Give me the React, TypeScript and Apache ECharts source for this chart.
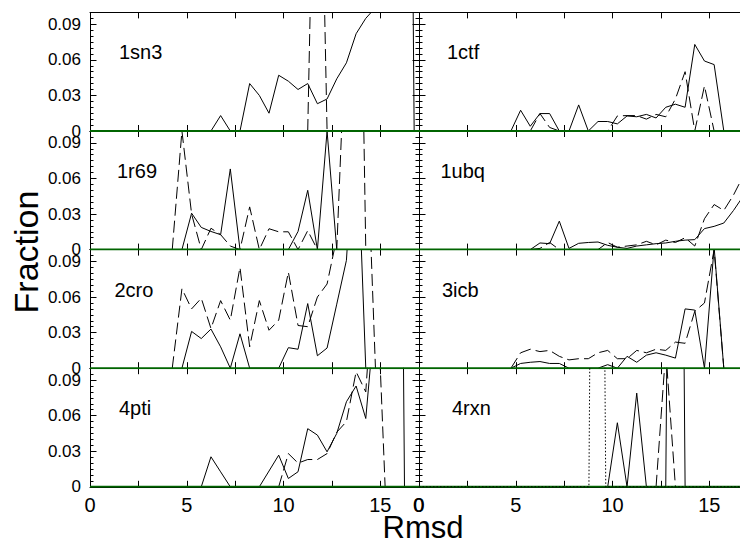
import React, { useEffect, useRef } from "react";
import * as echarts from "echarts";

type Pt = [number, number];

// ---- Data (Rmsd bin centre, fraction) ----
const PANEL_NAMES = ["1sn3", "1ctf", "1r69", "1ubq", "2cro", "3icb", "4pti", "4rxn"];
const X_TICK_LABELS = [0, 5, 10, 15];
const Y_TICK_LABELS = [0, 0.03, 0.06, 0.09];

const SOLID_1SN3: Pt[] = [[6.25, 0], [6.75, 0.013], [7.25, 0], [7.75, 0], [8.25, 0.04], [8.75, 0.03], [9.25, 0.015], [9.75, 0.047], [10.25, 0.042], [10.75, 0.035], [11.25, 0.04], [11.75, 0.023], [12.25, 0.027], [12.75, 0.044], [13.25, 0.0575], [13.75, 0.082], [14.25, 0.095], [14.75, 0.104], [15.25, 0.2], [15.75, 0.4], [16.25, 1.0], [16.75, 0]];
const DASHED_1SN3: Pt[] = [[11.25, 0], [11.75, 0.4], [12.25, 0]];

const SOLID_1CTF: Pt[] = [[4.75, 0], [5.25, 0.0175], [5.75, 0.004], [6.25, 0.0147], [6.75, 0.0147], [7.25, 0], [7.75, 0], [8.25, 0.022], [8.75, 0], [9.25, 0.008], [9.75, 0.008], [10.25, 0.006], [10.75, 0.0127], [11.25, 0.012], [11.75, 0.014], [12.25, 0.011], [12.75, 0.02], [13.25, 0.0226], [13.75, 0.02], [14.25, 0.073], [14.75, 0.059], [15.25, 0.056], [15.75, 0]];
const DASHED_1CTF: Pt[] = [[5.75, 0], [6.25, 0.0147], [6.75, 0.003], [7.25, 0], [9.75, 0], [10.25, 0.0127], [10.75, 0.013], [11.25, 0.013], [11.75, 0.01], [12.25, 0.014], [12.75, 0.012], [13.25, 0.027], [13.75, 0.05], [14.25, 0], [14.75, 0.038], [15.25, 0]];

const SOLID_1R69: Pt[] = [[4.75, 0], [5.25, 0.0307], [5.75, 0.0187], [6.25, 0.0153], [6.75, 0.0126], [7.25, 0.068], [7.75, 0], [10.25, 0], [10.75, 0.0153], [11.25, 0.05], [11.75, 0], [12.25, 0.1], [12.75, 0]];
const DASHED_1R69: Pt[] = [[4.25, 0], [4.75, 0.1], [5.25, 0.03], [5.75, 0], [6.25, 0.018], [6.75, 0.0126], [7.25, 0.003], [7.75, 0], [8.25, 0.036], [8.75, 0], [9.25, 0.0176], [9.75, 0.015], [10.25, 0.015], [10.75, 0], [11.25, 0.016], [11.75, 0], [12.75, 0], [13.25, 0.2], [13.75, 0.5], [14.25, 0]];

const SOLID_1UBQ: Pt[] = [[5.75, 0], [6.25, 0.0056], [6.75, 0.005], [7.25, 0.024], [7.75, 0.001], [8.25, 0.0053], [8.75, 0.006], [9.25, 0.0064], [9.75, 0.0036], [10.25, 0.002], [10.75, 0.001], [11.25, 0.003], [11.75, 0.004], [12.25, 0.005], [12.75, 0.0056], [13.25, 0.007], [13.75, 0.008], [14.25, 0.0084], [14.75, 0.0177], [15.25, 0.0196], [15.75, 0.0224], [16.25, 0.033], [16.75, 0.045]];
const DASHED_1UBQ: Pt[] = [[5.75, 0], [6.25, 0.001], [6.75, 0.006], [7.25, 0], [9.25, 0], [9.75, 0.006], [10.25, 0.002], [10.75, 0.003], [11.25, 0.004], [11.75, 0.007], [12.25, 0.004], [12.75, 0.008], [13.25, 0.006], [13.75, 0.01], [14.25, 0.003], [14.75, 0.026], [15.25, 0.038], [15.75, 0.033], [16.25, 0.046], [16.75, 0.062]];

const SOLID_2CRO: Pt[] = [[4.75, 0], [5.25, 0.031], [5.75, 0.025], [6.25, 0.033], [6.75, 0.018], [7.25, 0], [7.75, 0.029], [8.25, 0], [9.75, 0], [10.25, 0.0173], [10.75, 0.016], [11.25, 0.0545], [11.75, 0.0105], [12.25, 0.017], [12.75, 0.054], [13.25, 0.091], [13.75, 0.22], [14.25, 0]];
const DASHED_2CRO: Pt[] = [[4.25, 0], [4.75, 0.067], [5.25, 0.05], [5.75, 0.059], [6.25, 0.0335], [6.75, 0.057], [7.25, 0.0405], [7.75, 0.085], [8.25, 0.018], [8.75, 0.057], [9.25, 0.032], [9.75, 0.0405], [10.25, 0.081], [10.75, 0.036], [11.25, 0.035], [11.75, 0.06], [12.25, 0.071], [12.75, 0.11], [13.25, 0.2], [13.75, 0.3], [14.25, 0.22], [14.75, 0]];

const SOLID_3ICB: Pt[] = [[4.75, 0], [5.25, 0.004], [5.75, 0.005], [6.25, 0.0056], [6.75, 0.004], [7.25, 0.004], [7.75, 0], [9.25, 0], [9.75, 0.003], [10.25, 0], [10.75, 0.01], [11.25, 0.005], [11.75, 0.011], [12.25, 0.013], [12.75, 0.011], [13.25, 0.0085], [13.75, 0.05], [14.25, 0.049], [14.75, 0], [15.25, 0.102], [15.75, 0]];
const DASHED_3ICB: Pt[] = [[4.75, 0], [5.25, 0.013], [5.75, 0.016], [6.25, 0.014], [6.75, 0.015], [7.25, 0.01], [7.75, 0.007], [8.25, 0.008], [8.75, 0.008], [9.25, 0.013], [9.75, 0.015], [10.25, 0.008], [10.75, 0.008], [11.25, 0.015], [11.75, 0.013], [12.25, 0.016], [12.75, 0.015], [13.25, 0.022], [13.75, 0.021], [14.25, 0.048], [14.75, 0.055], [15.25, 0.1], [15.75, 0]];

const SOLID_4PTI: Pt[] = [[5.75, 0], [6.25, 0.0253], [6.75, 0.0126], [7.25, 0], [8.75, 0], [9.25, 0.0133], [9.75, 0.0267], [10.25, 0.007], [10.75, 0.0127], [11.25, 0.049], [11.75, 0.0436], [12.25, 0.0295], [12.75, 0.045], [13.25, 0.0717], [13.75, 0.085], [14.25, 0.0576], [14.75, 0.15], [15.25, 0.5], [15.75, 1.0], [16.25, 0]];
const DASHED_4PTI: Pt[] = [[9.75, 0], [10.25, 0.028], [10.75, 0.02], [11.25, 0.023], [11.75, 0.023], [12.25, 0.028], [12.75, 0.046], [13.25, 0.055], [13.75, 0.097], [14.25, 0.08], [14.75, 0.2], [15.25, 0]];

const SOLID_4RXN: Pt[] = [[9.75, 0], [10.25, 0.054], [10.75, 0], [11.25, 0.079], [11.75, 0], [12.75, 0], [13.25, 1.0], [13.75, 0]];
const DASHED_4RXN: Pt[] = [[12.25, 0], [12.75, 0.115], [13.25, 0]];
const DOTTED_4RXN: Pt[] = [[0, 0], [8.78, 0], [9.2, 1.0], [9.65, 0], [17, 0]];

const SOLID = [SOLID_1SN3, SOLID_1CTF, SOLID_1R69, SOLID_1UBQ, SOLID_2CRO, SOLID_3ICB, SOLID_4PTI, SOLID_4RXN];
const DASHED = [DASHED_1SN3, DASHED_1CTF, DASHED_1R69, DASHED_1UBQ, DASHED_2CRO, DASHED_3ICB, DASHED_4PTI, DASHED_4RXN];
const DOTTED: (Pt[] | null)[] = [null, null, null, null, null, null, null, DOTTED_4RXN];
const ZERO_LINE: Pt[] = [[0, 0], [17, 0]];

// ---- Layout ----
const X_MIN = 0;
const X_MAX = 17;
const Y_MAX = 0.1;
const COL_LEFT = [90, 419];
const PANEL_W = 329;
const TOP0 = 12.4;
const PANEL_H = 118.6;
const LABEL_LEFT = [119, 447, 117, 440.5, 114.5, 442, 119, 452];
const FONT = "Liberation Sans, Arial, Helvetica, sans-serif";

export default function App() {
  const ref = useRef<HTMLDivElement>(null);

  useEffect(() => {
    if (!ref.current) return;
    const chart = echarts.init(ref.current, null, { renderer: "svg" });

    const grids: any[] = [];
    const xAxes: any[] = [];
    const yAxes: any[] = [];
    const series: any[] = [];
    const graphics: any[] = [];

    PANEL_NAMES.forEach((name, i) => {
      const col = i % 2;
      const row = Math.floor(i / 2);
      const top = TOP0 + row * PANEL_H;
      grids.push({
        left: COL_LEFT[col],
        top,
        width: PANEL_W,
        height: PANEL_H,
        containLabel: false,
        outerBoundsMode: "none",
      });

      const xBase = {
        type: "value",
        gridIndex: i,
        min: X_MIN,
        max: X_MAX,
        interval: 2.5,
        splitLine: { show: false },
        axisLine: { show: true, onZero: false, lineStyle: { color: "#000", width: 1 } },
        axisTick: { show: true, inside: true, length: 6, lineStyle: { color: "#000", width: 1 } },
      };
      xAxes.push({
        ...xBase,
        position: "bottom",
        axisLabel: {
          show: row === 3,
          customValues: X_TICK_LABELS,
          fontSize: 20,
          lineHeight: 16,
          fontFamily: FONT,
          color: "#000",
          margin: 10,
          showMinLabel: true,
          showMaxLabel: true,
          hideOverlap: false,
          formatter: (v: number) => String(v),
        },
      });
      xAxes.push({ ...xBase, position: "top", axisLabel: { show: false } });

      const yBase = {
        type: "value",
        gridIndex: i,
        min: 0,
        max: Y_MAX,
        interval: 0.03,
        splitLine: { show: false },
        axisLine: { show: true, onZero: false, lineStyle: { color: "#000", width: 1 } },
        axisTick: { show: true, inside: true, length: 6.5, lineStyle: { color: "#000", width: 1 } },
        minorTick: { show: true, splitNumber: 6, length: 3.5, lineStyle: { color: "#000", width: 1 } },
      };
      yAxes.push({
        ...yBase,
        position: "left",
        axisLabel: {
          show: col === 0,
          customValues: Y_TICK_LABELS,
          fontSize: 17,
          fontFamily: FONT,
          color: "#000",
          margin: 9,
          showMinLabel: true,
          showMaxLabel: true,
          formatter: (v: number) => {
            const hit = Y_TICK_LABELS.find((t) => Math.abs(t - v) < 1e-6);
            return hit === undefined ? "" : String(hit);
          },
        },
      });
      yAxes.push({ ...yBase, position: "right", show: col === 0, axisLabel: { show: false } });

      const common = {
        type: "line",
        xAxisIndex: 2 * i,
        yAxisIndex: 2 * i,
        symbol: "none",
        silent: true,
        clip: true,
      };
      series.push({ ...common, name: name + " solid", data: SOLID[i], z: 2, lineStyle: { color: "#000", width: 1, type: "solid" } });
      series.push({ ...common, name: name + " dashed", data: DASHED[i], z: 2, lineStyle: { color: "#000", width: 1, type: [12, 5] } });
      series.push({ ...common, name: name + " zero", data: ZERO_LINE, z: 3, lineStyle: { color: "#006400", width: 2 } });
      const dotted = DOTTED[i];
      if (dotted) {
        series.push({ ...common, name: name + " dotted", data: dotted, z: 4, lineStyle: { color: "#000", width: 1, type: [1.5, 2] } });
      }

      graphics.push({
        type: "text",
        x: LABEL_LEFT[i],
        y: top + 40,
        style: { text: name, fontSize: 20, fontFamily: FONT, fill: "#000", align: "left", verticalAlign: "middle" },
      });
    });

    graphics.push({
      type: "text",
      x: 26,
      y: 252,
      rotation: Math.PI / 2,
      style: { text: "Fraction", fontSize: 34, fontFamily: FONT, fill: "#000", align: "center", verticalAlign: "middle" },
    });
    graphics.push({
      type: "text",
      x: 423,
      y: 527,
      style: { text: "Rmsd", fontSize: 31, fontFamily: FONT, fill: "#000", align: "center", verticalAlign: "middle" },
    });

    // The right column's origin tick label, placed through the title component
    const bottom = TOP0 + 4 * PANEL_H;
    const titles = [
      {
        text: String(X_TICK_LABELS[0]),
        left: COL_LEFT[1] - 6,
        top: bottom + 7,
        padding: 0,
        z: 50,
        textStyle: { fontSize: 20, fontWeight: "normal", fontFamily: FONT, color: "#000", lineHeight: 22 },
      },
    ];

    chart.setOption({
      animation: false,
      backgroundColor: "#fff",
      title: titles,
      grid: grids,
      xAxis: xAxes,
      yAxis: yAxes,
      series,
      graphic: graphics,
    });

    return () => chart.dispose();
  }, []);

  return <div ref={ref} style={{ position: "absolute", left: 0, top: 0, width: 740, height: 543 }} />;
}
